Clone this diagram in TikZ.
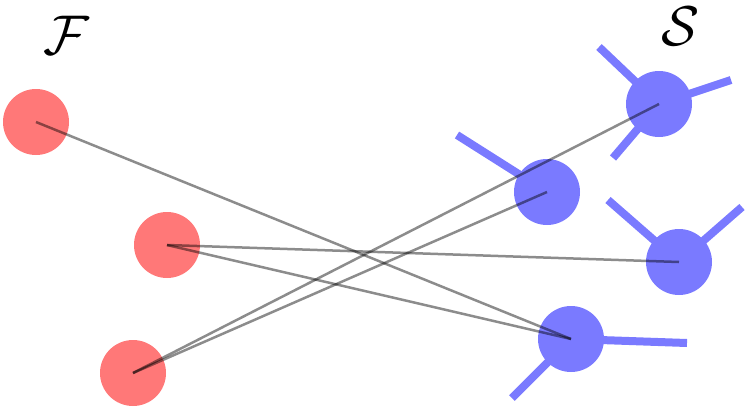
\documentclass[tikz,border=0pt]{standalone}
\begin{document}
\begin{tikzpicture}[x=1pt,y=-1pt,
  fnode/.style={circle,inner sep=0pt,minimum size=66pt,fill={rgb,255:red,255;green,120;blue,120}},
  snode/.style={circle,inner sep=0pt,minimum size=66pt,fill={rgb,255:red,122;green,122;blue,255}},
  spoke/.style={line width=8pt,draw={rgb,255:red,122;green,122;blue,255}},
  link/.style={line width=2.5pt,draw=black,draw opacity=0.45},
  lab/.style={inner sep=0pt,scale=5.6}]
\useasboundingbox (0,0) rectangle (747,410);
% spoke ends
\coordinate (a1) at (599,47);
\coordinate (a2) at (731,80);
\coordinate (a3) at (613,158);
\coordinate (b1) at (457,135);
\coordinate (c1) at (608,200);
\coordinate (c2) at (742,207);
\coordinate (d1) at (687,343);
\coordinate (d2) at (512,398);
% spokes
\draw[spoke] (659,104) -- (a1);
\draw[spoke] (659,104) -- (a2);
\draw[spoke] (659,104) -- (a3);
\draw[spoke] (547,192) -- (b1);
\draw[spoke] (679,262) -- (c1);
\draw[spoke] (679,262) -- (c2);
\draw[spoke] (571,339) -- (d1);
\draw[spoke] (571,339) -- (d2);
% nodes
\node[fnode] (f1) at (36,122) {};
\node[fnode] (f2) at (167,245) {};
\node[fnode] (f3) at (133,373) {};
\node[snode] (sa) at (659,104) {};
\node[snode] (sb) at (547,192) {};
\node[snode] (sc) at (679,262) {};
\node[snode] (sd) at (571,339) {};
% labels
\node[lab] (lf) at (66,35) {$\mathcal{F}$};
\node[lab] (ls) at (681,26) {$\mathcal{S}$};
% links
\draw[link] (f1.center) -- (sd.center);
\draw[link] (f2.center) -- (sc.center);
\draw[link] (f2.center) -- (sd.center);
\draw[link] (f3.center) -- (sa.center);
\draw[link] (f3.center) -- (sb.center);
\end{tikzpicture}
\end{document}
